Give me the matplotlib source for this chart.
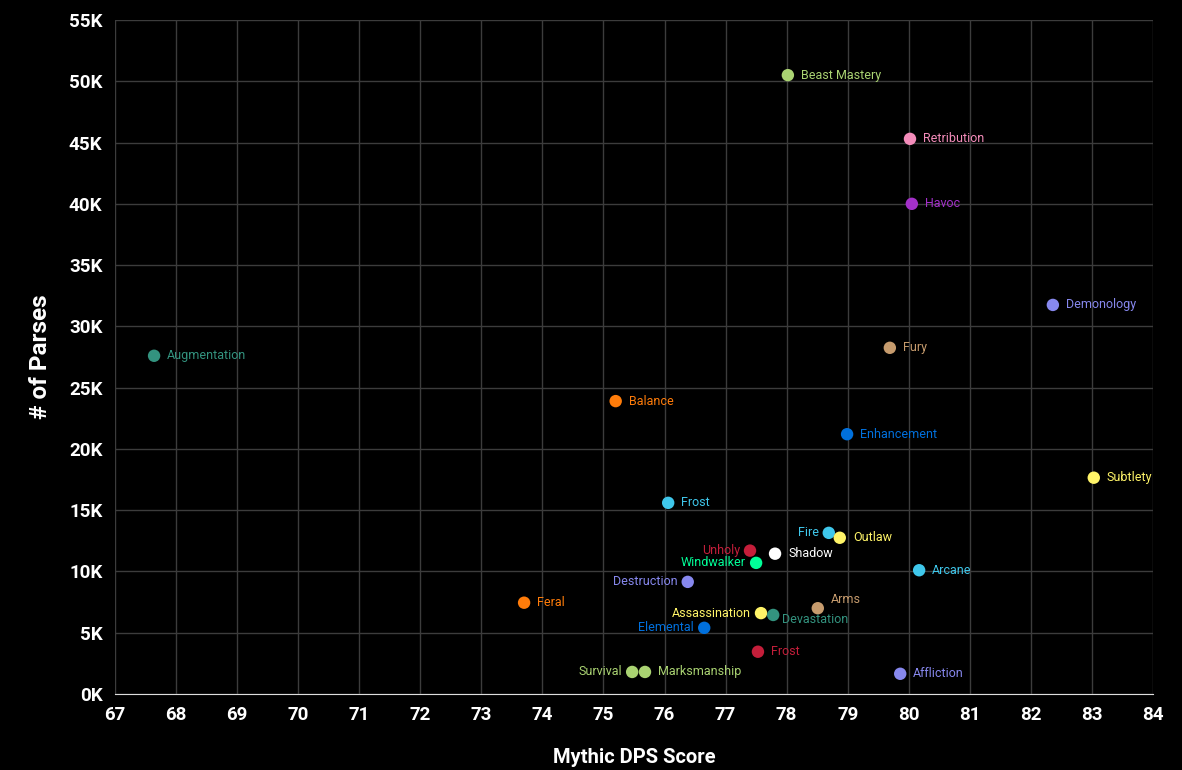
import numpy as np
from matplotlib import pyplot

specs = ['Beast Mastery', 'Retribution', 'Havoc', 'Demonology', 'Augmentation', 'Fury',
         'Balance', 'Enhancement', 'Subtlety', 'Frost', 'Fire', 'Outlaw', 'Unholy', 'Shadow',
         'Windwalker', 'Arcane', 'Destruction', 'Feral', 'Arms', 'Assassination',
         'Devastation', 'Elemental', 'Frost', 'Survival', 'Marksmanship', 'Affliction']
score = [78.02, 80.02, 80.05, 82.36, 67.64, 79.69, 75.2, 78.99, 83.03, 76.06, 78.69, 78.87,
         77.4, 77.81, 77.5, 80.17, 76.38, 73.7, 78.51, 77.58, 77.78, 76.65, 77.53, 75.47,
         75.68, 79.86]
parses = [50500, 45300, 40000, 31750, 27600, 28250, 23900, 21200, 17650, 15600, 13150, 12750,
          11700, 11450, 10700, 10100, 9150, 7450, 7000, 6600, 6450, 5400, 3450, 1800, 1800, 1650]
colors = ['#AAD372', '#F48CBA', '#A330C9', '#8788EE', '#33937F', '#C69B6D', '#FF7C0A',
          '#0070DD', '#FFF468', '#3FC7EB', '#3FC7EB', '#FFF468', '#C41E3A', '#FFFFFF',
          '#00FF98', '#3FC7EB', '#8788EE', '#FF7C0A', '#C69B6D', '#FFF468', '#33937F',
          '#0070DD', '#C41E3A', '#AAD372', '#AAD372', '#8788EE']
# label placement: offset in pixels and alignment
left_labels = {'Fire', 'Unholy', 'Windwalker', 'Destruction', 'Assassination', 'Elemental', 'Survival'}
special = {20: (9, -5, 'left'), 18: (13, 9, 'left')}

pyplot.rcParams['font.family'] = ['Roboto', 'DejaVu Sans']

figure = pyplot.figure(figsize=(11.82, 7.70), dpi=100, facecolor='black')
axis = figure.add_axes([115 / 1182, 1 - 694 / 770, (1153 - 115) / 1182, (694 - 20) / 770])
axis.set_facecolor('black')

axis.scatter(score, parses, s=80, c=colors, zorder=3, linewidths=0)

for i, name in enumerate(specs):
    if i in special:
        dx, dy, ha = special[i]
    elif name in left_labels:
        dx, dy, ha = -10, 0, 'right'
    else:
        dx, dy, ha = 13, 0, 'left'
    axis.annotate(name, (score[i], parses[i]), xytext=(dx, dy), textcoords='offset pixels',
                  ha=ha, va='center', color=colors[i], fontsize=9, zorder=4)

axis.set_xlim(67, 84)
axis.set_ylim(0, 55000)
axis.set_xticks(np.arange(67, 85, 1))
axis.set_yticks(np.arange(0, 55001, 5000))
axis.set_yticklabels(['%dK' % (v // 1000) for v in range(0, 55001, 5000)])
axis.grid(True, color='#3c3c3c', linewidth=1)
axis.set_axisbelow(True)
for side in ['left', 'right', 'top']:
    axis.spines[side].set_visible(False)
axis.spines['bottom'].set_color('#dddddd')
axis.tick_params(length=0, colors='white', labelsize=13.5, pad=9)
for lab in axis.get_xticklabels() + axis.get_yticklabels():
    lab.set_fontweight('bold')

axis.set_xlabel('Mythic DPS Score', color='white', fontsize=14.5, fontweight='bold', labelpad=17)
axis.set_ylabel('# of Parses', color='white', fontsize=17.5, fontweight='bold', labelpad=12)

pyplot.savefig('out.png', facecolor='black')
